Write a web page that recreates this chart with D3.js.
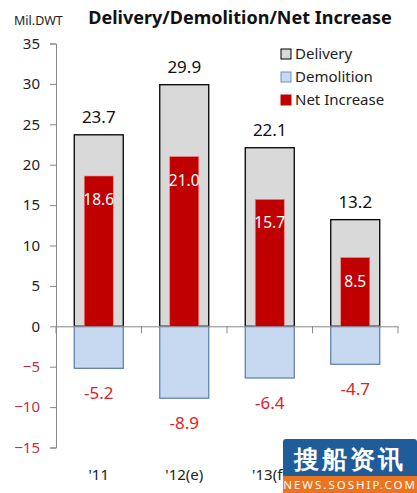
<!DOCTYPE html>
<html>
<head>
<meta charset="utf-8">
<script src="https://cdn.jsdelivr.net/npm/d3@7"></script>
<style>
  body { margin: 0; background: #fff; }
  text { font-family: "Noto Sans", "Open Sans", sans-serif; }
</style>
</head>
<body>
<div class="chart"></div>
<script>
const years = ["'11", "'12(e)", "'13(f)", "'14(f)"];
const delivery = [23.7, 29.9, 22.1, 13.2];
const demolition = [-5.2, -8.9, -6.4, -4.7];
const netIncrease = [18.6, 21.0, 15.7, 8.5];
const yTicks = [35, 30, 25, 20, 15, 10, 5, 0, -5, -10, -15];
const legendNames = ["Delivery", "Demolition", "Net Increase"];

const width = 417, height = 493;
const svg = d3.select(".chart").append("svg")
    .attr("width", width).attr("height", height);

const x = d3.scaleBand().domain(years).range([56, 398]);
const y = d3.scaleLinear().domain([-15, 35]).range([447.5, 43.5]);

// title + unit
svg.append("text").attr("x", 240).attr("y", 24)
    .attr("text-anchor", "middle").attr("font-size", 18).attr("font-weight", "bold")
    .attr("fill", "#111").text("Delivery/Demolition/Net Increase");
svg.append("text").attr("x", 14).attr("y", 25)
    .attr("font-size", 12.5).attr("fill", "#222").text("Mil.DWT");

// y axis
const yAxis = svg.append("g").attr("transform", "translate(56,0)")
    .call(d3.axisLeft(y).tickValues(yTicks).tickSize(6).tickPadding(10));
yAxis.select(".domain").attr("stroke", "#888");
yAxis.selectAll(".tick line").attr("stroke", "#888");
yAxis.selectAll(".tick text")
    .attr("font-size", 15)
    .attr("font-family", "Noto Sans, sans-serif")
    .attr("fill", d => d < 0 ? "#c0304a" : "#222");

// bars
const bw = 49, nw = 29;
svg.selectAll("rect.delivery").data(delivery).join("rect")
    .attr("class", "delivery")
    .attr("x", (d, i) => x(years[i]) + x.bandwidth() / 2 - bw / 2)
    .attr("y", d => y(d))
    .attr("width", bw).attr("height", d => y(0) - y(d))
    .attr("fill", "#d9d9d9").attr("stroke", "#000").attr("stroke-width", 1.3);

svg.selectAll("rect.demolition").data(demolition).join("rect")
    .attr("class", "demolition")
    .attr("x", (d, i) => x(years[i]) + x.bandwidth() / 2 - bw / 2)
    .attr("y", y(0))
    .attr("width", bw).attr("height", d => y(d) - y(0))
    .attr("fill", "#c6d9f1").attr("stroke", "#5a7aa8").attr("stroke-width", 1.2);

svg.selectAll("rect.net").data(netIncrease).join("rect")
    .attr("class", "net")
    .attr("x", (d, i) => x(years[i]) + x.bandwidth() / 2 - nw / 2)
    .attr("y", d => y(d))
    .attr("width", nw).attr("height", d => y(0) - y(d))
    .attr("fill", "#c00000").attr("stroke", "#f08080").attr("stroke-width", 0.6);

// x axis along zero
const xAxis = svg.append("g").attr("transform", `translate(0,${y(0)})`)
    .call(d3.axisBottom(x).tickSize(0).tickFormat(""));
xAxis.select(".domain").attr("stroke", "#888");
svg.selectAll("line.cat").data(d3.range(years.length + 1)).join("line")
    .attr("class", "cat")
    .attr("x1", i => 56 + i * x.bandwidth()).attr("x2", i => 56 + i * x.bandwidth())
    .attr("y1", y(0)).attr("y2", y(0) + 7)
    .attr("stroke", "#888");

svg.selectAll("text.cat").data(years).join("text")
    .attr("class", "cat")
    .attr("x", d => x(d) + x.bandwidth() / 2).attr("y", 480)
    .attr("text-anchor", "middle").attr("font-size", 15).attr("fill", "#222")
    .text(d => d);

// value labels
svg.selectAll("text.dlab").data(delivery).join("text")
    .attr("class", "dlab")
    .attr("x", (d, i) => x(years[i]) + x.bandwidth() / 2)
    .attr("y", d => y(d) - 12)
    .attr("text-anchor", "middle").attr("font-size", 17).attr("fill", "#111")
    .text(d => d.toFixed(1));

svg.selectAll("text.mlab").data(demolition).join("text")
    .attr("class", "mlab")
    .attr("x", (d, i) => x(years[i]) + x.bandwidth() / 2)
    .attr("y", d => y(d) + 31)
    .attr("text-anchor", "middle").attr("font-size", 17).attr("fill", "#e0202a")
    .text(d => d.toFixed(1));

svg.selectAll("text.nlab").data(netIncrease).join("text")
    .attr("class", "nlab")
    .attr("x", (d, i) => x(years[i]) + x.bandwidth() / 2)
    .attr("y", d => y(d) + 29)
    .attr("text-anchor", "middle").attr("font-size", 15.5).attr("fill", "#fff")
    .text(d => d.toFixed(1));

// legend
const legendFill = ["#d9d9d9", "#c6d9f1", "#c00000"];
const legendStroke = ["#000", "#6f8fbf", "#c00000"];
const lg = svg.selectAll("g.legend").data(legendNames).join("g")
    .attr("class", "legend")
    .attr("transform", (d, i) => `translate(281,${48 + i * 23})`);
lg.append("rect").attr("width", 10).attr("height", 10).attr("y", 1)
    .attr("fill", (d, i) => legendFill[i]).attr("stroke", (d, i) => legendStroke[i]);
lg.append("text").attr("x", 14).attr("y", 11)
    .attr("font-size", 15).attr("fill", "#222").text(d => d);

// watermark (covers the last category label, as in the source image)
const wm = svg.append("g").attr("transform", "translate(283,439)");
wm.append("rect").attr("width", 134).attr("height", 54).attr("rx", 3).attr("fill", "#1f5c9a");
wm.append("rect").attr("y", 37).attr("width", 134).attr("height", 17).attr("fill", "#ea7420");
wm.append("text").attr("x", 67).attr("y", 29).attr("text-anchor", "middle")
    .attr("font-family", "Noto Sans CJK SC").attr("font-weight", "bold")
    .attr("font-size", 25).attr("fill", "#fff")
    .attr("letter-spacing", 3).text("搜船资讯");
wm.append("text").attr("x", 67).attr("y", 50).attr("text-anchor", "middle")
    .attr("font-size", 11.5).attr("fill", "#fff").attr("letter-spacing", 2)
    .text("NEWS.SOSHIP.COM");
</script>
</body>
</html>
